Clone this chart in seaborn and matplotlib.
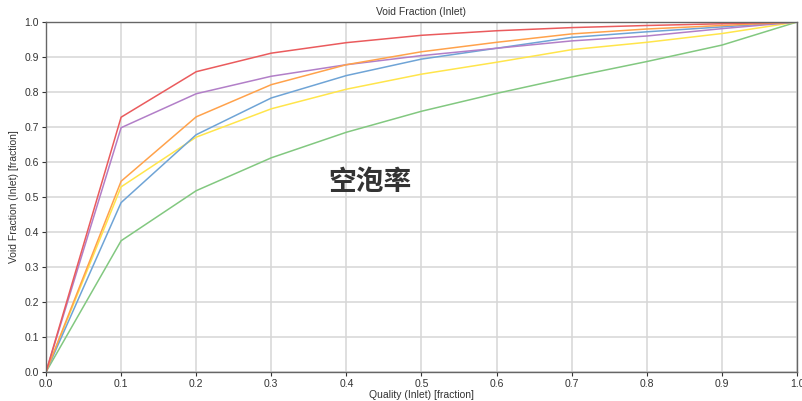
import matplotlib
matplotlib.use("Agg")
import matplotlib.pyplot as plt
import seaborn as sns
import pandas as pd

quality = [0.0, 0.1, 0.2, 0.3, 0.4, 0.5, 0.6, 0.7, 0.8, 0.9, 1.0]
red = [0.0, 0.728, 0.858, 0.911, 0.941, 0.962, 0.975, 0.984, 0.990, 0.995, 1.0]
purple = [0.0, 0.698, 0.795, 0.845, 0.878, 0.904, 0.925, 0.946, 0.960, 0.981, 1.0]
orange = [0.0, 0.545, 0.729, 0.821, 0.878, 0.915, 0.942, 0.966, 0.980, 0.990, 1.0]
blue = [0.0, 0.484, 0.678, 0.783, 0.847, 0.894, 0.925, 0.956, 0.972, 0.986, 1.0]
yellow = [0.0, 0.529, 0.671, 0.752, 0.808, 0.851, 0.885, 0.921, 0.942, 0.967, 1.0]
green = [0.0, 0.375, 0.518, 0.612, 0.685, 0.745, 0.796, 0.843, 0.887, 0.934, 1.0]

series_names = ["green", "yellow", "blue", "purple", "orange", "red"]
series_values = [green, yellow, blue, purple, orange, red]
palette = {"red": "#ea5b5d", "purple": "#b27fc8", "orange": "#ffa24b",
           "blue": "#6fa4d6", "yellow": "#ffe54b", "green": "#82c880"}

x_ticks = [0.0, 0.1, 0.2, 0.3, 0.4, 0.5, 0.6, 0.7, 0.8, 0.9, 1.0]
y_ticks = [0.0, 0.1, 0.2, 0.3, 0.4, 0.5, 0.6, 0.7, 0.8, 0.9, 1.0]

rows = []
for name, vals in zip(series_names, series_values):
    for q, v in zip(quality, vals):
        rows.append({"quality": q, "void": v, "series": name})
df = pd.DataFrame(rows)

sns.set_theme(style="whitegrid")
plt.rcParams['font.family'] = ['Liberation Sans', 'DejaVu Sans', 'Noto Sans CJK SC']

fig = plt.figure(figsize=(8.03, 4.01), dpi=100)
ax = fig.add_axes([46/803, 29/401, 751/803, 350/401])
sns.lineplot(data=df, x="quality", y="void", hue="series", hue_order=series_names,
             palette=palette, linewidth=1.1, legend=False, ax=ax, sort=False)

ax.set_xlim(0, 1)
ax.set_ylim(0, 1)
ax.set_xticks(x_ticks)
ax.set_yticks(y_ticks)
ax.set_xticklabels([f"{t:.1f}" for t in x_ticks])
ax.set_yticklabels([f"{t:.1f}" for t in y_ticks])
ax.tick_params(axis="both", labelsize=7.5, colors="#333333", length=3, width=0.8,
               direction="out", bottom=True, left=True, pad=2)
ax.grid(True, color="#d6d6d6", linewidth=1.1)
for side, sp in ax.spines.items():
    sp.set_visible(True)
    sp.set_color("#666666")
    sp.set_linewidth(1.0)
ax.set_xlabel("Quality (Inlet) [fraction]", fontsize=7.5, color="#333333", labelpad=1)
ax.set_ylabel("Void Fraction (Inlet) [fraction]", fontsize=7.5, color="#333333", labelpad=4)
ax.set_title("Void Fraction (Inlet)", fontsize=7.5, color="#333333", pad=5)
ax.text(0.431, 0.543, "空泡率", fontsize=20, fontweight="bold", color="#333333",
        family=["Noto Sans CJK SC", "DejaVu Sans"], ha="center", va="center")

fig.savefig("out.png", dpi=100)
